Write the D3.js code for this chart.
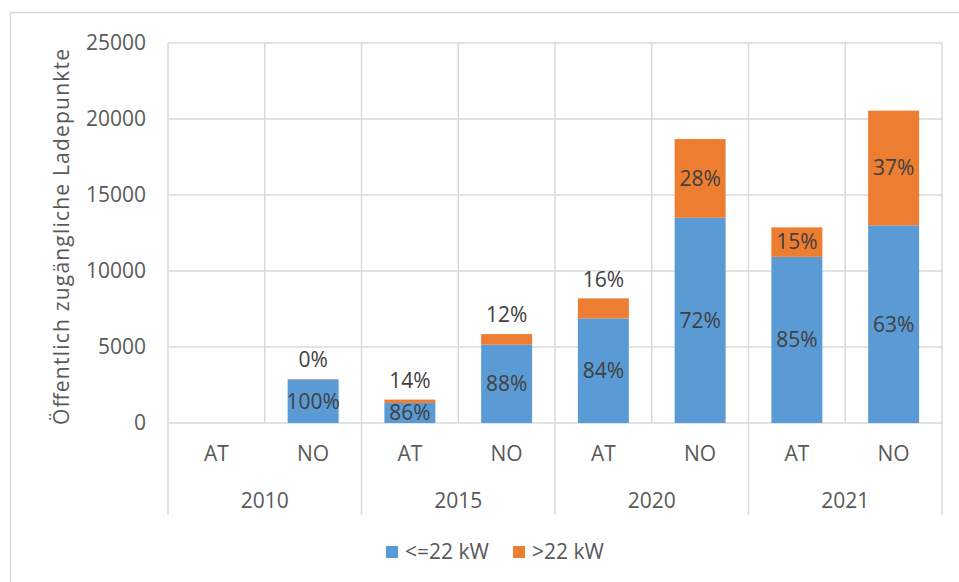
<!DOCTYPE html>
<html><head><meta charset="utf-8">
<script src="https://cdn.jsdelivr.net/npm/d3@7"></script>
<style>body{margin:0;background:#fff}svg{display:block}text{font-family:"Open Sans",sans-serif}</style>
</head><body><svg id="c" width="959" height="582"></svg>
<script>
const years = ["2010","2015","2020","2021"];
const countries = ["AT","NO"];
const categories = ["2010|AT","2010|NO","2015|AT","2015|NO","2020|AT","2020|NO","2021|AT","2021|NO"];
const lowValues  = [0, 2870, 1320, 5150, 6880, 13500, 10930, 13000];
const highValues = [0,   20,  220,  700, 1320,  5180,  1940,  7550];
const lowLabels  = [null, "100%", "86%", "88%", "84%", "72%", "85%", "63%"];
const highLabels = [null, "0%", "14%", "12%", "16%", "28%", "15%", "37%"];
const yTicks = [0, 5000, 10000, 15000, 20000, 25000];
const seriesNames = ["<=22 kW", ">22 kW"];
const colors = ["#5B9BD5", "#ED7D31"];
const yTitle = "Öffentlich zugängliche Ladepunkte";

const svg = d3.select("#c");
const X0 = 168, X1 = 942, Y0 = 423, Y1 = 43, GROUP_BOTTOM = 515;
const grid = "#D9D9D9";
const FS = 21;

// outer frame
svg.append("rect").attr("x",10.5).attr("y",12.5).attr("width",1000).attr("height",1000)
  .attr("fill","none").attr("stroke",grid).attr("stroke-width",1.5);

const x = d3.scaleBand().domain(categories).range([X0,X1]).paddingInner(0.473).paddingOuter(0.2365);
const y = d3.scaleLinear().domain([0,25000]).range([Y0,Y1]);
const step = x.step();

// horizontal grid
svg.append("g").selectAll("line").data(yTicks).join("line")
  .attr("x1",X0).attr("x2",X1).attr("y1",d=>y(d)).attr("y2",d=>y(d))
  .attr("stroke",grid).attr("stroke-width",1.5);

// vertical grid / separators
const bounds = d3.range(categories.length+1);
svg.append("g").selectAll("line").data(bounds).join("line")
  .attr("x1",i=>X0+i*step).attr("x2",i=>X0+i*step)
  .attr("y1",Y1).attr("y2",i=> i%2===0 ? GROUP_BOTTOM : Y0)
  .attr("stroke",grid).attr("stroke-width",1.5);

// y axis labels
const yAxis = d3.axisLeft(y).tickValues(yTicks).tickSize(0).tickPadding(0).tickFormat(d3.format("d"));
const ya = svg.append("g").attr("transform",`translate(146,0)`).call(yAxis);
ya.select(".domain").remove();
ya.selectAll("text").attr("font-size",FS).attr("fill","#595959").attr("font-family","Open Sans");

// y title
svg.append("text").attr("transform","translate(69,237) rotate(-90)")
  .attr("text-anchor","middle").attr("font-size",FS).attr("fill","#595959")
  .attr("textLength",376).attr("lengthAdjust","spacing").text(yTitle);

// bars
const stacked = categories.map((c,i)=>({c, low:lowValues[i], high:highValues[i], ll:lowLabels[i], hl:highLabels[i]}));
const gBars = svg.append("g");
gBars.selectAll("rect.low").data(stacked).join("rect").attr("class","low")
  .attr("x",d=>x(d.c)).attr("width",x.bandwidth())
  .attr("y",d=>y(d.low)).attr("height",d=>y(0)-y(d.low)).attr("fill",colors[0]);
gBars.selectAll("rect.high").data(stacked).join("rect").attr("class","high")
  .attr("x",d=>x(d.c)).attr("width",x.bandwidth())
  .attr("y",d=>y(d.low+d.high)).attr("height",d=>y(d.low)-y(d.low+d.high)).attr("fill",colors[1]);

// labels
const lab = svg.append("g").attr("font-size",FS).attr("fill","#404040").attr("text-anchor","middle");
stacked.forEach(d=>{
  const cx = x(d.c)+x.bandwidth()/2;
  if (d.ll) lab.append("text").attr("x",cx).attr("y",(y(0)+y(d.low))/2).attr("dy","0.35em").text(d.ll);
  if (d.hl) {
    const top = y(d.low+d.high), bot = y(d.low);
    const yy = (bot-top) < 25 ? top-19 : (top+bot)/2;
    lab.append("text").attr("x",cx).attr("y",yy).attr("dy","0.35em").text(d.hl);
  }
});

// category labels
const cl = svg.append("g").attr("font-size",FS).attr("fill","#595959").attr("text-anchor","middle");
categories.forEach(c=>{
  cl.append("text").attr("x",x(c)+x.bandwidth()/2).attr("y",461).text(c.split("|")[1]);
});
years.forEach((yr,i)=>{
  cl.append("text").attr("x",X0+(2*i+1)*step).attr("y",508).text(yr);
});

// legend
const lg = svg.append("g").attr("font-size",FS).attr("fill","#595959");
const legX = [386, 513];
seriesNames.forEach((n,i)=>{
  lg.append("rect").attr("x",legX[i]).attr("y",546).attr("width",12).attr("height",12).attr("fill",colors[i]);
  lg.append("text").attr("x",legX[i]+19).attr("y",559).text(n);
});
</script></body></html>
